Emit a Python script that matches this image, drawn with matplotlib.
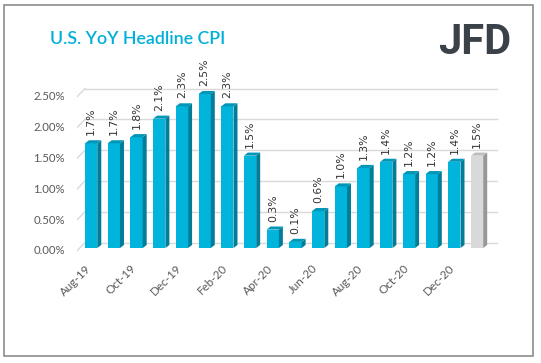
import matplotlib.pyplot as plt
from matplotlib.patches import Polygon, Rectangle

months = ["Aug-19", "Sep-19", "Oct-19", "Nov-19", "Dec-19", "Jan-20", "Feb-20",
          "Mar-20", "Apr-20", "May-20", "Jun-20", "Jul-20", "Aug-20", "Sep-20",
          "Oct-20", "Nov-20", "Dec-20", "Jan-21"]
cpi = [1.7, 1.7, 1.8, 2.1, 2.3, 2.5, 2.3, 1.5, 0.3, 0.1, 0.6, 1.0, 1.3, 1.4,
       1.2, 1.2, 1.4, 1.5]
forecast = [False] * 17 + [True]
yticks = [0.0, 0.5, 1.0, 1.5, 2.0, 2.5]

W, H = 541, 363
fig = plt.figure(figsize=(W / 100, H / 100), dpi=100)
fig.patch.set_facecolor("white")

# figure border
fig.patches.append(Rectangle((3.5 / W, 1 - 356 / H), 529.5 / W, 351.5 / H,
                             transform=fig.transFigure, fill=False,
                             edgecolor="#8c8c8c", lw=1.2))

ax = fig.add_axes([77 / W, 0.2997, 423 / W, 0.5091])
ax.set_xlim(-0.623, 18.01)
ax.set_ylim(-0.1, 2.9)
ax.axis("off")

hw = 0.27      # half width of bar front
dx = 0.176     # bar depth (x)
dy = 0.05      # bar depth (y)
wx, wy = 0.353, 0.09   # back wall offset
xl = -0.623
xr = 17.88

# back wall gridlines
for v in yticks:
    ax.plot([xl, xl + wx], [v - 0.045, v + wy], color="#d9d9d9", lw=1, zorder=1)
    ax.plot([xl + wx, xr], [v + wy, v + wy], color="#d9d9d9", lw=1, zorder=1)
    ax.text(-1.15, v - 0.045, f"{v:.2f}%", ha="right", va="center",
            fontsize=8.2, color="#595959", family="Lato", clip_on=False)

for i, (v, fc) in enumerate(zip(cpi, forecast)):
    if fc:
        front, side, top = "#d9d9d9", "#979797", "#bdbdbd"
    else:
        front, side, top = "#00b4dc", "#007d98", "#0096b8"
    l, r = i - hw, i + hw
    ax.add_patch(Rectangle((l, 0), 2 * hw, v, facecolor=front, edgecolor="none", zorder=3))
    ax.add_patch(Polygon([(r, 0), (r + dx, dy), (r + dx, v + dy), (r, v)],
                         closed=True, facecolor=side, edgecolor="none", zorder=3))
    ax.add_patch(Polygon([(l, v), (l + dx, v + dy), (r + dx, v + dy), (r, v)],
                         closed=True, facecolor=top, edgecolor="none", zorder=3))
    ax.text(i, v + 0.13, f"{v:.1f}%", rotation=90, ha="center", va="bottom",
            fontsize=7.8, color="#333333", family="DejaVu Sans", zorder=4)
    if i % 2 == 0:
        ax.text(i + 0.08, -0.24, months[i], rotation=45, ha="right", va="top",
                fontsize=8.4, color="#595959", family="Lato", clip_on=False)

fig.text(50 / W, 1 - 39 / H, "U.S. YoY Headline CPI", ha="left", va="center",
         fontsize=12.8, fontweight="semibold", color="#00b0d8", family="Lato")
fig.text(511 / W, 1 - 54 / H, "JFD", ha="right", va="baseline", fontsize=30,
         fontweight="bold", color="#3b4148", family="Roboto")

fig.savefig("out.png", dpi=100, facecolor="white")
